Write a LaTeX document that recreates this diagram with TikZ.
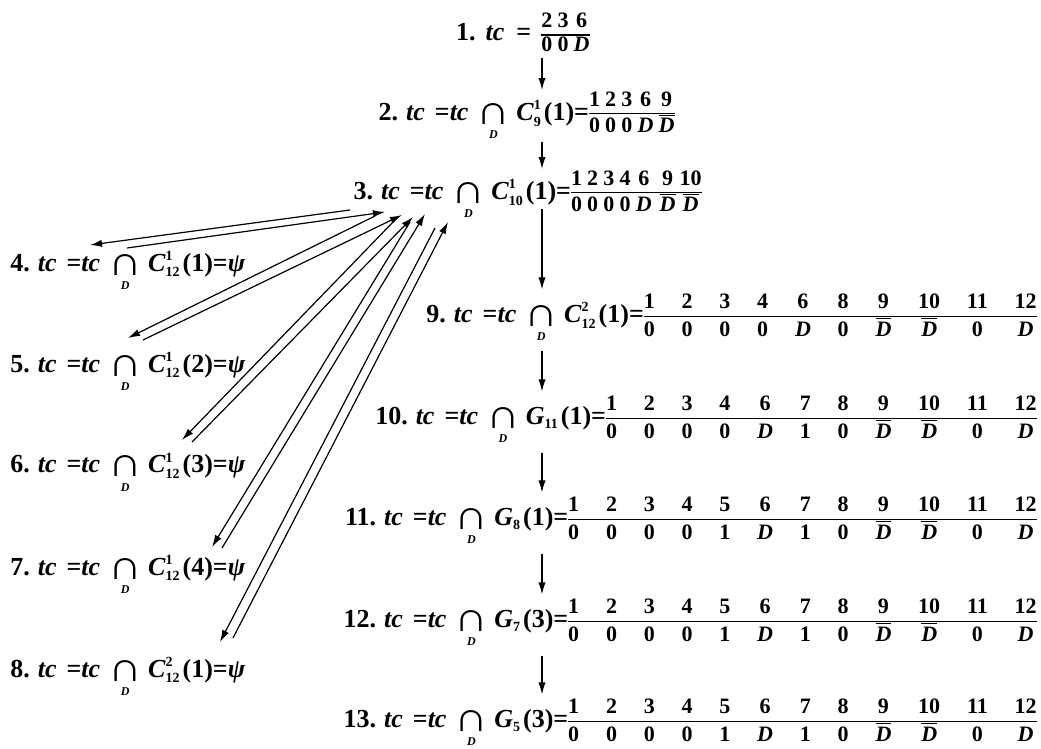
\documentclass[tikz,border=0pt]{standalone}
\usepackage{fontspec}
\setmainfont{Liberation Serif}
\usepackage{amsmath}
\usepackage{graphicx}
\usetikzlibrary{arrows.meta}

\newcommand{\bi}[1]{\textbf{\textit{#1}}}
\newcommand{\sm}[1]{\mbox{\fontsize{7}{7}\selectfont\bfseries #1}}
\newcommand{\Db}{$\overline{\mbox{\bi{D}}}$}
\newcommand{\capD}{$\mathop{\raisebox{-2pt}{\scalebox{1.8}[1.6]{\mdseries ∩}}}\limits_{\mbox{\fontsize{6}{6}\selectfont\bi{D}}}$}
\newcommand{\lhs}[4]{{\fontsize{13}{15}\selectfont #1.\hspace{4pt}\bi{tc}\hspace{5pt}=\bi{tc}\hspace{4pt}\capD\hspace{3pt}$\bi{#2}#3$\hspace{1pt}(#4)=}}
\newcommand{\fullfrac}{\begin{tabular}{@{}*{12}{c}@{}}1&2&3&4&5&6&7&8&9&10&11&12\\\hline
    0&0&0&0&1&\bi{D}&1&0&\Db&\Db&0&\bi{D}\end{tabular}}

\begin{document}
\begin{tikzpicture}[
    x=0.5pt, y=-0.5pt,
    eqn/.style={inner sep=0pt, font=\fontsize{11}{13.2}\selectfont\bfseries},
    tight/.style={eqn, execute at begin node={\setlength\tabcolsep{1.3pt}\renewcommand\arraystretch{0.85}}},
    wide/.style={eqn, execute at begin node={\setlength\tabcolsep{6.7pt}}},
    flow/.style={-{Latex[length=6pt,width=3.6pt]}, line width=0.6pt}
]
    \useasboundingbox (0,0) rectangle (1041,749);
    \setlength\arrayrulewidth{0.6pt}

    % main chain
    \node[tight, anchor=base east] (r1) at (590,40.5)
        {{\fontsize{13}{15}\selectfont 1.\hspace{5pt}\bi{tc}\hspace{6pt}=\hspace{5pt}}\begin{tabular}{@{}ccc@{}}2&3&6\\\hline 0&0&\bi{D}\end{tabular}};
    \node[tight, anchor=base east] (r2) at (675,120.5)
        {\lhs{2}{C}{^{\sm{1}}_{\sm{9}}}{1}\begin{tabular}{@{}ccccc@{}}1&2&3&6&9\\\hline
        0&0&0&\bi{D}&\Db\end{tabular}};
    \node[tight, anchor=base east] (r3) at (702,199.5)
        {\lhs{3}{C}{^{\sm{1}}_{\sm{10}}}{1}\begin{tabular}{@{}ccccc@{\hspace{4pt}}c@{\hspace{2pt}}c@{}}1&2&3&4&6&9&10\\\hline
        0&0&0&0&\bi{D}&\Db&\Db\end{tabular}};

    % dead ends
    \node[eqn, anchor=base west] (r4) at (10,271) {\lhs{4}{C}{^{\sm{1}}_{\sm{12}}}{1}{\fontsize{13}{15}\selectfont\bi{ψ}}};
    \node[eqn, anchor=base west] (r5) at (10,372) {\lhs{5}{C}{^{\sm{1}}_{\sm{12}}}{2}{\fontsize{13}{15}\selectfont\bi{ψ}}};
    \node[eqn, anchor=base west] (r6) at (10,473) {\lhs{6}{C}{^{\sm{1}}_{\sm{12}}}{3}{\fontsize{13}{15}\selectfont\bi{ψ}}};
    \node[eqn, anchor=base west] (r7) at (10,575) {\lhs{7}{C}{^{\sm{1}}_{\sm{12}}}{4}{\fontsize{13}{15}\selectfont\bi{ψ}}};
    \node[eqn, anchor=base west] (r8) at (10,677) {\lhs{8}{C}{^{\sm{2}}_{\sm{12}}}{1}{\fontsize{13}{15}\selectfont\bi{ψ}}};

    \node[wide, anchor=base east] (r9) at (1037,322.5)
        {\lhs{9}{C}{^{\sm{2}}_{\sm{12}}}{1}\begin{tabular}{@{}*{10}{c}@{}}1&2&3&4&6&8&9&10&11&12\\\hline
        0&0&0&0&\bi{D}&0&\Db&\Db&0&\bi{D}\end{tabular}};
    \node[wide, anchor=base east] (r10) at (1037,424.5)
        {\lhs{10}{G}{_{\sm{11}}}{1}\begin{tabular}{@{}*{11}{c}@{}}1&2&3&4&6&7&8&9&10&11&12\\\hline
        0&0&0&0&\bi{D}&1&0&\Db&\Db&0&\bi{D}\end{tabular}};
    \node[wide, anchor=base east] (r11) at (1037,525.5) {\lhs{11}{G}{_{\sm{8}}}{1}\fullfrac};
    \node[wide, anchor=base east] (r12) at (1037,627.5) {\lhs{12}{G}{_{\sm{7}}}{3}\fullfrac};
    \node[wide, anchor=base east] (r13) at (1037,727.5) {\lhs{13}{G}{_{\sm{5}}}{3}\fullfrac};

    \coordinate (ax) at (542,0);
    \foreach \a/\b/\s in {r1/r2/0, r2/r3/0, r3/r9/-6, r9/r10/3, r10/r11/3, r11/r12/3, r12/r13/3}
        \draw[flow, shorten <=\s pt] (\a.south -| ax) -- (\b.north -| ax);

    % back and forth from step 3
    \foreach \k/\sx/\sy/\tx/\ty/\ux/\uy/\vx/\vy in {
        4/350/210/90/245/127/248/385/212,
        5/375/216/128/338/143/340/402/215,
        6/395/220/182/440/192/442/413/217,
        7/410/222/212/547/222/548/425/214,
        8/435/228/220/642/233/638/448/222} {
        \coordinate (s\k) at (\sx,\sy);
        \coordinate (t\k) at (\tx,\ty);
        \coordinate (u\k) at (\ux,\uy);
        \coordinate (v\k) at (\vx,\vy);
        \draw[flow] (s\k) -- (t\k);
        \draw[flow] (u\k) -- (v\k);
    }
\end{tikzpicture}
\end{document}
